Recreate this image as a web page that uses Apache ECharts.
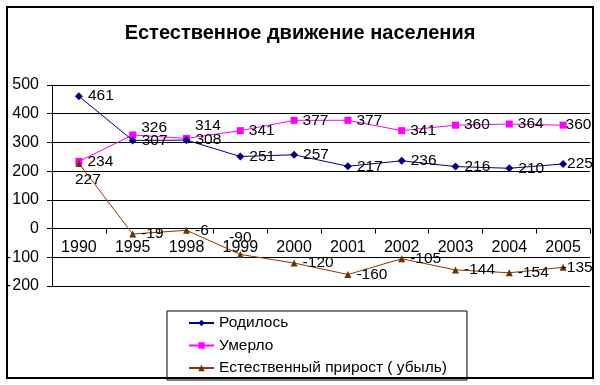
<!DOCTYPE html>
<html>
<head>
<meta charset="utf-8">
<script src="https://cdn.jsdelivr.net/npm/echarts@6/dist/echarts.min.js"></script>
<style>
html,body{margin:0;padding:0;background:#fff;}
#chart{width:600px;height:385px;}
</style>
</head>
<body>
<div id="chart"></div>
<script>
const titleText = 'Естественное движение населения';
const categories = ['1990','1995','1998','1999','2000','2001','2002','2003','2004','2005'];
const seriesNames = ['Родилось','Умерло','Естественный прирост ( убыль)'];
const born = [461,307,308,251,257,217,236,216,210,225];
const died = [234,326,314,341,377,377,341,360,364,360];
const growth = [227,-19,-6,-90,-120,-160,-105,-144,-154,-135];
const yTicks = [-200,-100,0,100,200,300,400,500];

// label placement tweaks (index -> label options)
const labelTweaks = [
  {9:{offset:[-5,0]}},
  {1:{offset:[0,-7]}, 2:{offset:[0,-13]}, 9:{offset:[-6,0]}},
  {0:{position:'bottom', offset:[9,0]}, 3:{position:'top'}, 9:{offset:[-10,0]}}
];

function buildData(values, si){
  return values.map((v,i)=>{
    const t = labelTweaks[si][i];
    return t ? {value:v, label:t} : v;
  });
}

const FONT = 'Arial, "Liberation Sans", sans-serif';
const GRID_TOP = 85, GRID_BOTTOM = 99, H = 385;
const yMin = yTicks[0], yMax = yTicks[yTicks.length-1];
const plotH = H - GRID_TOP - GRID_BOTTOM;
// move the category axis up to the zero line
const zeroOffset = -plotH * (0 - yMin) / (yMax - yMin);

const chart = echarts.init(document.getElementById('chart'), null, {renderer:'canvas'});

const baseLabel = {show:true, position:'right', distance:5, color:'#000', fontSize:15.5, fontFamily:FONT};

chart.setOption({
  animation:false,
  backgroundColor:'#fff',
  title:{text:titleText, left:'center', top:18,
    textStyle:{fontSize:20, fontWeight:'bold', color:'#000', fontFamily:FONT}},
  graphic:[{type:'rect', shape:{x:7,y:7,width:586,height:371},
    style:{fill:'none', stroke:'#000', lineWidth:2}, z:100}],
  grid:{left:52, right:10, top:GRID_TOP, bottom:GRID_BOTTOM, containLabel:false},
  legend:{orient:'vertical', left:167, top:311, padding:[4,20,4,21],
    itemWidth:25, itemHeight:8, itemGap:6.5,
    borderColor:'#000', borderWidth:1, backgroundColor:'#fff',
    textStyle:{fontSize:15.5, lineHeight:16, color:'#000', fontFamily:FONT},
    data:seriesNames},
  xAxis:{type:'category', data:categories, boundaryGap:true, position:'bottom', offset:zeroOffset,
    axisLine:{onZero:false, lineStyle:{color:'#000', width:1}},
    axisTick:{show:true, inside:false, length:5, alignWithLabel:false, lineStyle:{color:'#000'}},
    axisLabel:{fontSize:16, color:'#000', fontFamily:FONT, margin:11, interval:0},
    splitLine:{show:false}},
  yAxis:{type:'value', min:yMin, max:yMax, interval:100,
    axisLine:{show:true, lineStyle:{color:'#000', width:1}},
    axisTick:{show:true, length:5, lineStyle:{color:'#000'}},
    axisLabel:{fontSize:16, color:'#000', fontFamily:FONT, margin:13,
      formatter:v=> v<0 ? '-\u200A'+Math.abs(v) : String(v)},
    splitLine:{show:true, lineStyle:{color:'#000', width:1}}},
  series:[
    {name:seriesNames[0], type:'line', data:buildData(born,0), symbol:'diamond', symbolSize:8,
      lineStyle:{color:'#000080', width:1}, itemStyle:{color:'#000080'}, label:baseLabel, z:3},
    {name:seriesNames[1], type:'line', data:buildData(died,1), symbol:'rect', symbolSize:7,
      lineStyle:{color:'#FF00FF', width:1}, itemStyle:{color:'#FF00FF'}, label:baseLabel, z:2},
    {name:seriesNames[2], type:'line', data:buildData(growth,2), symbol:'triangle', symbolSize:7,
      lineStyle:{color:'#993300', width:1}, itemStyle:{color:'#663300'}, label:baseLabel, z:4}
  ]
});
</script>
</body>
</html>
